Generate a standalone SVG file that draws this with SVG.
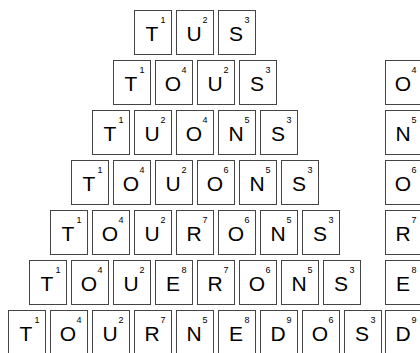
<svg xmlns="http://www.w3.org/2000/svg" width="420" height="353" viewBox="0 0 420 353">
<style>
.t{fill:#fff;stroke:#444;stroke-width:1}
.l{font-family:"Liberation Sans",Arial,sans-serif;font-size:21px;text-anchor:middle;fill:#000}
.n{font-family:"Liberation Sans",Arial,sans-serif;font-size:9px;text-anchor:middle;fill:#000}
</style>
<defs>
<rect id="tile" class="t" x="0.5" y="0.5" width="37" height="44"/>
</defs>
<rect width="420" height="353" fill="#fff"/>
<g id="connectors"/>
<!-- Row 1 -->
<g id="r1c1" transform="translate(134,10)"><use href="#tile"/><text class="l" x="18" y="31">T</text><text class="n" x="29" y="13">1</text></g>
<g id="r1c2" transform="translate(176,10)"><use href="#tile"/><text class="l" x="18" y="31">U</text><text class="n" x="29" y="13">2</text></g>
<g id="r1c3" transform="translate(218,10)"><use href="#tile"/><text class="l" x="18" y="31">S</text><text class="n" x="29" y="13">3</text></g>
<!-- Row 2 -->
<g id="r2c1" transform="translate(113,60)"><use href="#tile"/><text class="l" x="18" y="31">T</text><text class="n" x="29" y="13">1</text></g>
<g id="r2c2" transform="translate(155,60)"><use href="#tile"/><text class="l" x="18" y="31">O</text><text class="n" x="29" y="13">4</text></g>
<g id="r2c3" transform="translate(197,60)"><use href="#tile"/><text class="l" x="18" y="31">U</text><text class="n" x="29" y="13">2</text></g>
<g id="r2c4" transform="translate(239,60)"><use href="#tile"/><text class="l" x="18" y="31">S</text><text class="n" x="29" y="13">3</text></g>
<g id="r2x" transform="translate(385,60)"><use href="#tile"/><text class="l" x="18" y="31">O</text><text class="n" x="29" y="13">4</text></g>
<!-- Row 3 -->
<g id="r3c1" transform="translate(92,110)"><use href="#tile"/><text class="l" x="18" y="31">T</text><text class="n" x="29" y="13">1</text></g>
<g id="r3c2" transform="translate(134,110)"><use href="#tile"/><text class="l" x="18" y="31">U</text><text class="n" x="29" y="13">2</text></g>
<g id="r3c3" transform="translate(176,110)"><use href="#tile"/><text class="l" x="18" y="31">O</text><text class="n" x="29" y="13">4</text></g>
<g id="r3c4" transform="translate(218,110)"><use href="#tile"/><text class="l" x="18" y="31">N</text><text class="n" x="29" y="13">5</text></g>
<g id="r3c5" transform="translate(260,110)"><use href="#tile"/><text class="l" x="18" y="31">S</text><text class="n" x="29" y="13">3</text></g>
<g id="r3x" transform="translate(385,110)"><use href="#tile"/><text class="l" x="18" y="31">N</text><text class="n" x="29" y="13">5</text></g>
<!-- Row 4 -->
<g id="r4c1" transform="translate(71,160)"><use href="#tile"/><text class="l" x="18" y="31">T</text><text class="n" x="29" y="13">1</text></g>
<g id="r4c2" transform="translate(113,160)"><use href="#tile"/><text class="l" x="18" y="31">O</text><text class="n" x="29" y="13">4</text></g>
<g id="r4c3" transform="translate(155,160)"><use href="#tile"/><text class="l" x="18" y="31">U</text><text class="n" x="29" y="13">2</text></g>
<g id="r4c4" transform="translate(197,160)"><use href="#tile"/><text class="l" x="18" y="31">O</text><text class="n" x="29" y="13">6</text></g>
<g id="r4c5" transform="translate(239,160)"><use href="#tile"/><text class="l" x="18" y="31">N</text><text class="n" x="29" y="13">5</text></g>
<g id="r4c6" transform="translate(281,160)"><use href="#tile"/><text class="l" x="18" y="31">S</text><text class="n" x="29" y="13">3</text></g>
<g id="r4x" transform="translate(385,160)"><use href="#tile"/><text class="l" x="18" y="31">O</text><text class="n" x="29" y="13">6</text></g>
<!-- Row 5 -->
<g id="r5c1" transform="translate(50,210)"><use href="#tile"/><text class="l" x="18" y="31">T</text><text class="n" x="29" y="13">1</text></g>
<g id="r5c2" transform="translate(92,210)"><use href="#tile"/><text class="l" x="18" y="31">O</text><text class="n" x="29" y="13">4</text></g>
<g id="r5c3" transform="translate(134,210)"><use href="#tile"/><text class="l" x="18" y="31">U</text><text class="n" x="29" y="13">2</text></g>
<g id="r5c4" transform="translate(176,210)"><use href="#tile"/><text class="l" x="18" y="31">R</text><text class="n" x="29" y="13">7</text></g>
<g id="r5c5" transform="translate(218,210)"><use href="#tile"/><text class="l" x="18" y="31">O</text><text class="n" x="29" y="13">6</text></g>
<g id="r5c6" transform="translate(260,210)"><use href="#tile"/><text class="l" x="18" y="31">N</text><text class="n" x="29" y="13">5</text></g>
<g id="r5c7" transform="translate(302,210)"><use href="#tile"/><text class="l" x="18" y="31">S</text><text class="n" x="29" y="13">3</text></g>
<g id="r5x" transform="translate(385,210)"><use href="#tile"/><text class="l" x="18" y="31">R</text><text class="n" x="29" y="13">7</text></g>
<!-- Row 6 -->
<g id="r6c1" transform="translate(29,260)"><use href="#tile"/><text class="l" x="18" y="31">T</text><text class="n" x="29" y="13">1</text></g>
<g id="r6c2" transform="translate(71,260)"><use href="#tile"/><text class="l" x="18" y="31">O</text><text class="n" x="29" y="13">4</text></g>
<g id="r6c3" transform="translate(113,260)"><use href="#tile"/><text class="l" x="18" y="31">U</text><text class="n" x="29" y="13">2</text></g>
<g id="r6c4" transform="translate(155,260)"><use href="#tile"/><text class="l" x="18" y="31">E</text><text class="n" x="29" y="13">8</text></g>
<g id="r6c5" transform="translate(197,260)"><use href="#tile"/><text class="l" x="18" y="31">R</text><text class="n" x="29" y="13">7</text></g>
<g id="r6c6" transform="translate(239,260)"><use href="#tile"/><text class="l" x="18" y="31">O</text><text class="n" x="29" y="13">6</text></g>
<g id="r6c7" transform="translate(281,260)"><use href="#tile"/><text class="l" x="18" y="31">N</text><text class="n" x="29" y="13">5</text></g>
<g id="r6c8" transform="translate(323,260)"><use href="#tile"/><text class="l" x="18" y="31">S</text><text class="n" x="29" y="13">3</text></g>
<g id="r6x" transform="translate(385,260)"><use href="#tile"/><text class="l" x="18" y="31">E</text><text class="n" x="29" y="13">8</text></g>
<!-- Row 7 -->
<g id="r7c1" transform="translate(8,310)"><use href="#tile"/><text class="l" x="18" y="31">T</text><text class="n" x="29" y="13">1</text></g>
<g id="r7c2" transform="translate(50,310)"><use href="#tile"/><text class="l" x="18" y="31">O</text><text class="n" x="29" y="13">4</text></g>
<g id="r7c3" transform="translate(92,310)"><use href="#tile"/><text class="l" x="18" y="31">U</text><text class="n" x="29" y="13">2</text></g>
<g id="r7c4" transform="translate(134,310)"><use href="#tile"/><text class="l" x="18" y="31">R</text><text class="n" x="29" y="13">7</text></g>
<g id="r7c5" transform="translate(176,310)"><use href="#tile"/><text class="l" x="18" y="31">N</text><text class="n" x="29" y="13">5</text></g>
<g id="r7c6" transform="translate(218,310)"><use href="#tile"/><text class="l" x="18" y="31">E</text><text class="n" x="29" y="13">8</text></g>
<g id="r7c7" transform="translate(260,310)"><use href="#tile"/><text class="l" x="18" y="31">D</text><text class="n" x="29" y="13">9</text></g>
<g id="r7c8" transform="translate(302,310)"><use href="#tile"/><text class="l" x="18" y="31">O</text><text class="n" x="29" y="13">6</text></g>
<g id="r7c9" transform="translate(344,310)"><use href="#tile"/><text class="l" x="18" y="31">S</text><text class="n" x="29" y="13">3</text></g>
<g id="r7x" transform="translate(385,310)"><use href="#tile"/><text class="l" x="18" y="31">D</text><text class="n" x="29" y="13">9</text></g>
</svg>
